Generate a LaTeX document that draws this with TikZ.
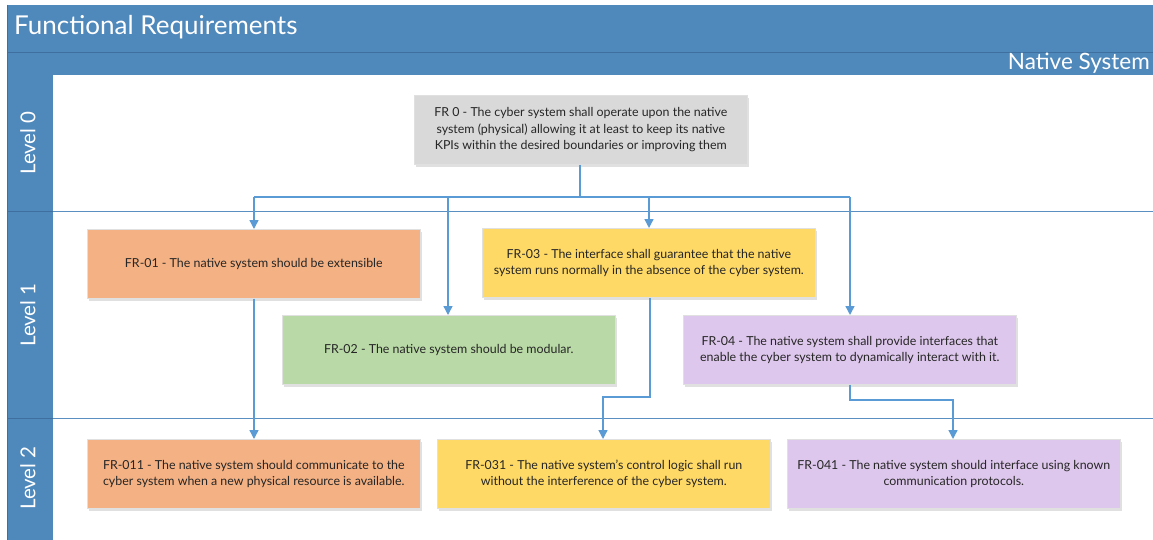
\documentclass[tikz,border=0pt]{standalone}
\usepackage{fontspec}
\setmainfont{Lato}
\usetikzlibrary{arrows.meta,shadows}
\definecolor{hdr}{HTML}{4F88BB}
\definecolor{hdrline}{HTML}{3E6F9E}
\definecolor{lane}{HTML}{5A8FC2}
\definecolor{conn}{HTML}{5B9BD5}
\definecolor{txt}{HTML}{262626}
\definecolor{cgray}{HTML}{D9D9D9}
\definecolor{corange}{HTML}{F4B183}
\definecolor{cgreen}{HTML}{B9D9A6}
\definecolor{cyellow}{HTML}{FFD966}
\definecolor{cpurple}{HTML}{DEC7EC}
\tikzset{
  req/.style={draw=black!12, line width=0.6pt, minimum width=333pt, minimum height=69pt,
    align=center, text=txt, font=\fontsize{12.4}{16.5}\selectfont,
    inner sep=0pt, anchor=north west,
    drop shadow={shadow xshift=1.5pt, shadow yshift=-2.5pt, opacity=0.12, fill=black}},
  link/.style={draw=conn, line width=1.4pt, -{Triangle[length=9pt,width=9pt]}},
  plain/.style={draw=conn, line width=1.4pt},
  lanelabel/.style={rotate=90, text=white, font=\fontsize{20.5}{24}\selectfont},
}
\begin{document}
\begin{tikzpicture}[x=1pt,y=-1pt]
\useasboundingbox (0,0) rectangle (1153,540);
\fill[white] (0,0) rectangle (1153,540);
% frame and headers
\fill[hdr] (7,5) rectangle (1153,75);
\draw[hdrline, line width=0.8pt] (7,52) -- (1153,52);
\fill[hdr] (7,75) rectangle (53,540);
\draw[hdrline, line width=0.8pt] (7,211) -- (53,211);
\draw[hdrline, line width=0.8pt] (7,418) -- (53,418);
\draw[hdrline, line width=0.8pt] (7,5) -- (7,540);
\draw[lane, line width=1pt] (53,211) -- (1153,211);
\draw[lane, line width=1pt] (53,418) -- (1153,418);
\node[anchor=west, text=white, font=\fontsize{26}{30}\selectfont, inner sep=0pt] (title) at (14,27) {Functional Requirements};
\node[anchor=east, text=white, font=\fontsize{22.5}{26}\selectfont, inner sep=0pt] (pool) at (1150,63) {Native System};
\node[lanelabel] (l0) at (28,143) {Level 0};
\node[lanelabel] (l1) at (28,315) {Level 1};
\node[lanelabel] (l2) at (28,478) {Level 2};
% requirement boxes
\node[req, fill=cgray] (fr0) at (414,95) {FR 0 - The cyber system shall operate upon the native\\ system (physical) allowing it at least to keep its native\\ KPIs within the desired boundaries or improving them};
\node[req, fill=corange] (fr01) at (87,229) {FR-01 - The native system should be extensible};
\node[req, fill=cgreen] (fr02) at (282,315) {FR-02 - The native system should be modular.};
\node[req, fill=cyellow] (fr03) at (482,228) {FR-03 - The interface shall guarantee that the native\\ system runs normally in the absence of the cyber system.};
\node[req, fill=cpurple] (fr04) at (683,315) {FR-04 - The native system shall provide interfaces that\\ enable the cyber system to dynamically interact with it.};
\node[req, fill=corange] (fr011) at (87,439) {FR-011 - The native system should communicate to the\\ cyber system when a new physical resource is available.};
\node[req, fill=cyellow] (fr031) at (437,439) {FR-031 - The native system's control logic shall run\\ without the interference of the cyber system.};
\node[req, fill=cpurple] (fr041) at (787,439) {FR-041 - The native system should interface using known\\ communication protocols.};
% connectors
\coordinate (bus) at (580,197);
\draw[plain] (fr0.south -| bus) -- (bus);
\draw[plain] (254,197) -- (850,197);
\draw[link] (254,197) -- (fr01.north -| 254,0);
\draw[link] (448,197) -- (fr02.north -| 448,0);
\draw[link] (649,197) -- (fr03.north -| 649,0);
\draw[link] (850,197) -- (fr04.north -| 850,0);
\draw[link] (fr01.south -| 254,0) -- (fr011.north -| 254,0);
\draw[link] (fr03.south -| 650,0) -- (650,397) -- (603,397) -- (fr031.north -| 603,0);
\draw[link] (fr04.south -| 850,0) -- (850,400) -- (953,400) -- (fr041.north -| 953,0);
\end{tikzpicture}
\end{document}
